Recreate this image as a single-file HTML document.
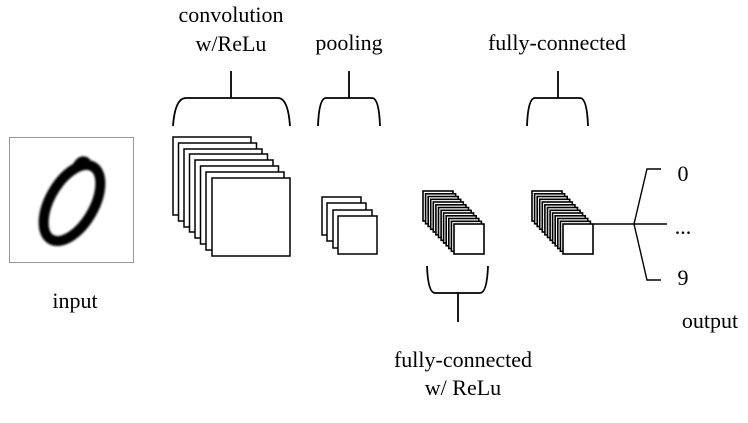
<!DOCTYPE html>
<html><head><meta charset="utf-8"><style>
html,body{margin:0;padding:0;background:#fff;}
svg{display:block}
text{font-family:"Liberation Serif",serif;font-size:22px;fill:#000}
</style></head><body>
<svg width="748" height="423" viewBox="0 0 748 423" xmlns="http://www.w3.org/2000/svg">
<defs><filter id="b"><feGaussianBlur stdDeviation="1.1"/></filter></defs>
<rect x="9.5" y="137.5" width="124" height="125" fill="#fff" stroke="#999" stroke-width="1"/>
<g filter="url(#b)" fill="none" stroke="#000">
<ellipse cx="72" cy="203" rx="42" ry="22" transform="rotate(-60 72 203)" stroke-width="10"/>
<path d="M74,170 Q80,155 88,162" stroke-width="7"/>
</g>
<text x="75" y="308" text-anchor="middle">input</text>

<g fill="#fff" stroke="#000" stroke-width="1.5">
<rect x="173" y="137" width="78" height="78"/>
<rect x="178.5" y="143" width="78" height="78"/>
<rect x="184" y="149" width="78" height="78"/>
<rect x="189.5" y="154" width="78" height="78"/>
<rect x="195" y="160" width="78" height="78"/>
<rect x="200.5" y="166" width="78" height="78"/>
<rect x="206" y="172" width="78" height="78"/>
<rect x="212" y="178" width="78" height="78"/>
<rect x="322" y="197" width="39" height="38"/>
<rect x="327" y="203" width="39" height="38"/>
<rect x="333" y="210" width="39" height="38"/>
<rect x="338" y="216" width="39" height="38"/>
</g>
<g fill="#fff" stroke="#000" stroke-width="1.6">
<rect x="423" y="191" width="30" height="30"/>
<rect x="425.6" y="193.8" width="30" height="30"/>
<rect x="428.2" y="196.5" width="30" height="30"/>
<rect x="430.7" y="199.3" width="30" height="30"/>
<rect x="433.3" y="202" width="30" height="30"/>
<rect x="435.9" y="204.8" width="30" height="30"/>
<rect x="438.5" y="207.5" width="30" height="30"/>
<rect x="441.1" y="210.3" width="30" height="30"/>
<rect x="443.6" y="213" width="30" height="30"/>
<rect x="446.2" y="215.8" width="30" height="30"/>
<rect x="448.8" y="218.5" width="30" height="30"/>
<rect x="451.4" y="221.3" width="30" height="30"/>
<rect x="454" y="224" width="30" height="30"/>
<rect x="532" y="191" width="30" height="30"/>
<rect x="534.6" y="193.8" width="30" height="30"/>
<rect x="537.2" y="196.5" width="30" height="30"/>
<rect x="539.7" y="199.3" width="30" height="30"/>
<rect x="542.3" y="202" width="30" height="30"/>
<rect x="544.9" y="204.8" width="30" height="30"/>
<rect x="547.5" y="207.5" width="30" height="30"/>
<rect x="550.1" y="210.3" width="30" height="30"/>
<rect x="552.6" y="213" width="30" height="30"/>
<rect x="555.2" y="215.8" width="30" height="30"/>
<rect x="557.8" y="218.5" width="30" height="30"/>
<rect x="560.4" y="221.3" width="30" height="30"/>
<rect x="563" y="224" width="30" height="30"/>
</g>

<g fill="none" stroke="#000" stroke-width="1.8">
<path d="M173,126 Q175,98 186,98 L278,98 Q288,98 290,126"/>
<line x1="231" y1="71" x2="231" y2="98"/>
<path d="M318,126 Q319,98 326,98 L372,98 Q379,98 380,126"/>
<line x1="349" y1="71" x2="349" y2="98"/>
<path d="M527,126 Q528,98 535,98 L580,98 Q587,98 588,126"/>
<line x1="558" y1="71" x2="558" y2="98"/>
<path d="M427,266 Q428,293 435,293 L480,293 Q487,293 488,266"/>
<line x1="458" y1="293" x2="458" y2="322"/>
<line x1="593" y1="224" x2="667" y2="224" stroke-width="1.4"/>
<path d="M661,169 L647,169 L634,224 L647,280 L661,280" stroke-width="1.4"/>
</g>

<text x="231" y="22" text-anchor="middle">convolution</text>
<text x="231" y="51" text-anchor="middle">w/ReLu</text>
<text x="349" y="50" text-anchor="middle">pooling</text>
<text x="557" y="50" text-anchor="middle">fully-connected</text>
<text x="463" y="367" text-anchor="middle">fully-connected</text>
<text x="463" y="395" text-anchor="middle">w/ ReLu</text>
<text x="683" y="181" text-anchor="middle">0</text>
<text x="683" y="234" text-anchor="middle">...</text>
<text x="683" y="285" text-anchor="middle">9</text>
<text x="710" y="328" text-anchor="middle">output</text>
</svg>
</body></html>
